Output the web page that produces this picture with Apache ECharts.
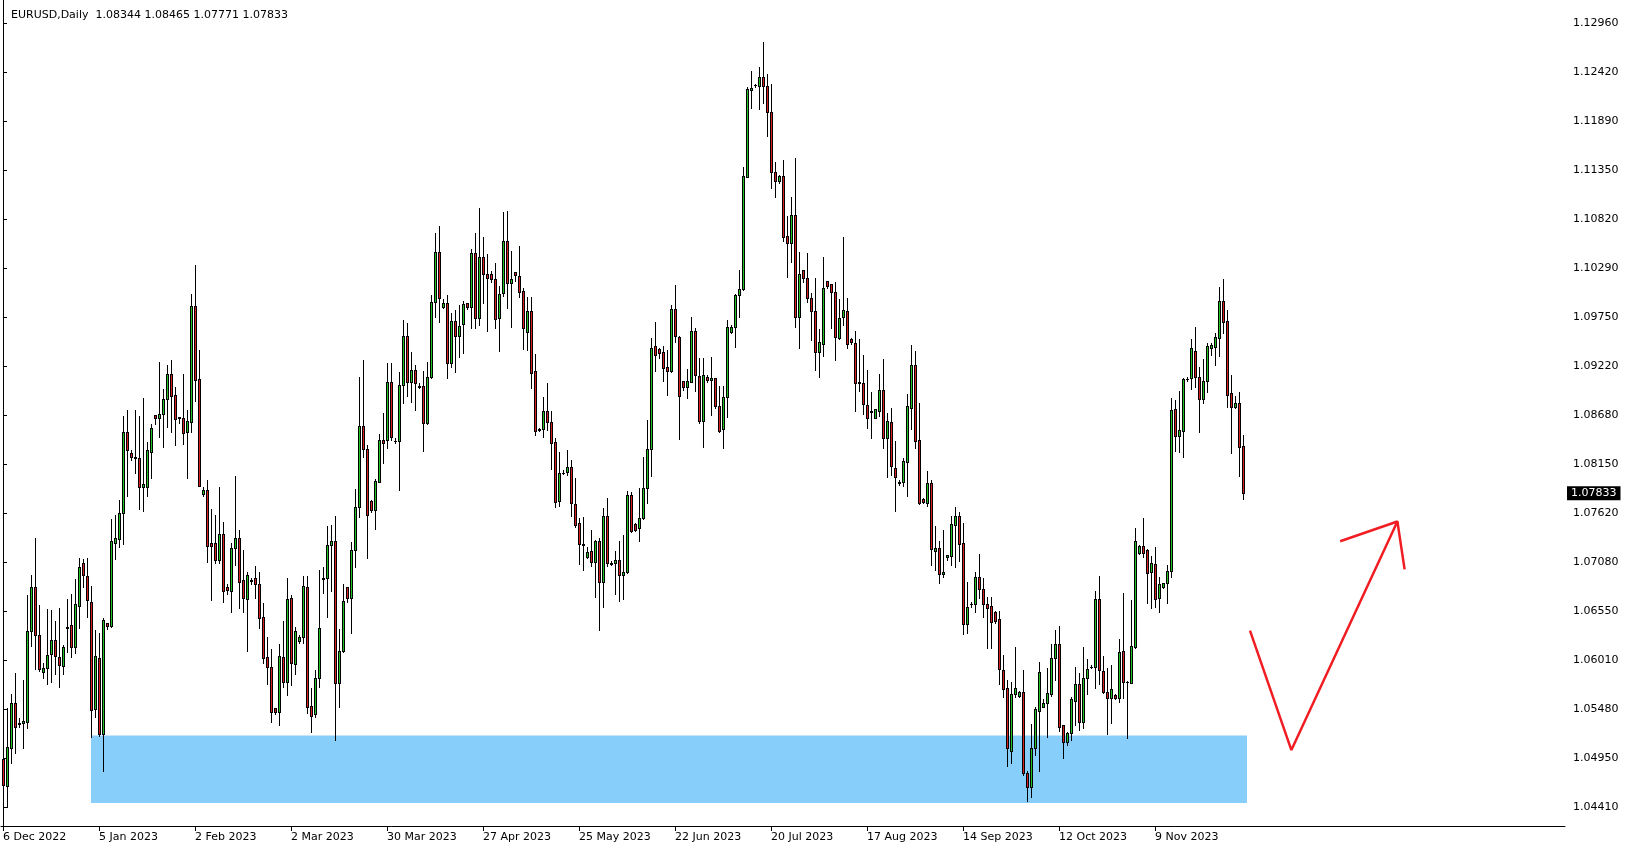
<!DOCTYPE html>
<html><head><meta charset="utf-8">
<script src="https://cdn.jsdelivr.net/npm/echarts@6/dist/echarts.min.js"></script>
<style>html,body{margin:0;padding:0;background:#fff}#c{width:1629px;height:850px}</style>
</head><body><div id="c"></div>
<script>
const symbolName = 'EURUSD,Daily';
const dateLabels = ['6 Dec 2022','5 Jan 2023','2 Feb 2023','2 Mar 2023','30 Mar 2023','27 Apr 2023','25 May 2023','22 Jun 2023','20 Jul 2023','17 Aug 2023','14 Sep 2023','12 Oct 2023','9 Nov 2023'];
const barsPerLabel = 24;
const yTicks = [1.04410,1.04950,1.05480,1.06010,1.06550,1.07080,1.07620,1.08150,1.08680,1.09220,1.09750,1.10290,1.10820,1.11350,1.11890,1.12420,1.12960];
const opens = [1.04933,1.04646,1.05053,1.05551,1.05326,1.05326,1.05344,1.06329,1.06808,1.06285,1.05882,1.05925,1.06078,1.06230,1.06052,1.05951,1.06360,1.06394,1.06154,1.06601,1.07070,1.06928,1.06645,1.05478,1.06034,1.05206,1.06423,1.06390,1.07288,1.07331,1.07620,1.08500,1.08270,1.08230,1.08220,1.07898,1.07905,1.08287,1.08683,1.08657,1.08693,1.08861,1.09133,1.08904,1.08661,1.08650,1.08505,1.08613,1.09874,1.09079,1.07829,1.07869,1.07287,1.07287,1.07106,1.07386,1.06812,1.06772,1.07233,1.07342,1.06888,1.06677,1.06888,1.06906,1.06840,1.06481,1.06045,1.05943,1.05489,1.05453,1.06045,1.05780,1.06688,1.05969,1.06227,1.06271,1.06808,1.05515,1.05424,1.05817,1.06906,1.06906,1.07270,1.07317,1.05769,1.06114,1.06808,1.06688,1.07215,1.07688,1.08567,1.08312,1.07749,1.07651,1.07960,1.08414,1.08414,1.09043,1.08407,1.08403,1.09010,1.09548,1.09050,1.09177,1.09003,1.09003,1.08596,1.09098,1.09915,1.10460,1.09867,1.09904,1.09257,1.09711,1.09551,1.09679,1.09904,1.09867,1.10449,1.09740,1.10405,1.10220,1.10220,1.10165,1.09740,1.10013,1.10587,1.10122,1.10242,1.10198,1.10038,1.09595,1.09820,1.09163,1.08538,1.08530,1.08734,1.08614,1.08389,1.07750,1.08058,1.08069,1.08116,1.07712,1.07505,1.07280,1.07135,1.07207,1.07088,1.07316,1.06862,1.07589,1.07077,1.07069,1.07106,1.06942,1.06979,1.07814,1.07502,1.07451,1.07560,1.07887,1.08312,1.09442,1.09402,1.09369,1.09206,1.09169,1.09838,1.09540,1.09057,1.08995,1.09050,1.09602,1.09115,1.08624,1.09101,1.09064,1.09086,1.08784,1.08530,1.08879,1.09587,1.09649,1.09994,1.10056,1.11284,1.12225,1.12280,1.12276,1.12367,1.12272,1.11992,1.11331,1.11240,1.11295,1.10637,1.10557,1.10866,1.09758,1.10263,1.10176,1.09958,1.09820,1.09377,1.09456,1.10147,1.10110,1.10023,1.09522,1.09758,1.09820,1.09514,1.09467,1.09042,1.09031,1.08795,1.08726,1.08650,1.08730,1.08959,1.08439,1.08606,1.08105,1.07955,1.07959,1.08178,1.08766,1.09231,1.08414,1.07771,1.07731,1.07941,1.07208,1.07233,1.06953,1.07135,1.07153,1.07487,1.07585,1.07287,1.06412,1.06630,1.06623,1.06917,1.06786,1.06623,1.06605,1.06536,1.06459,1.05907,1.05707,1.05028,1.05646,1.05624,1.05664,1.04781,1.04636,1.05060,1.05464,1.05507,1.05544,1.05646,1.06034,1.06187,1.05304,1.05126,1.05217,1.05573,1.05751,1.05344,1.05816,1.05940,1.05936,1.06677,1.05896,1.05664,1.05598,1.05634,1.05598,1.06114,1.05780,1.05769,1.06162,1.07179,1.07259,1.07215,1.06979,1.07063,1.06689,1.06808,1.06852,1.06986,1.08748,1.08461,1.08516,1.09075,1.09086,1.09384,1.09104,1.08857,1.09057,1.09413,1.09431,1.09529,1.09929,1.09711,1.08923,1.08777,1.08814,1.08344];
const highs = [1.05253,1.05489,1.05646,1.05871,1.05380,1.05798,1.06725,1.06943,1.07342,1.06616,1.05980,1.06572,1.06561,1.06445,1.06579,1.06180,1.06681,1.06735,1.06895,1.07124,1.07121,1.07124,1.06823,1.06343,1.06307,1.06470,1.06423,1.07550,1.07600,1.07760,1.08680,1.08740,1.08300,1.08740,1.08670,1.08868,1.08396,1.08584,1.08683,1.09267,1.08970,1.09231,1.09286,1.08995,1.08668,1.09133,1.08741,1.10001,1.10321,1.09395,1.07905,1.07978,1.07662,1.07596,1.07901,1.07524,1.06841,1.07287,1.08021,1.07433,1.07215,1.06971,1.06913,1.07040,1.06971,1.06633,1.06263,1.06132,1.05496,1.06190,1.06441,1.06906,1.06725,1.06372,1.06289,1.06932,1.06932,1.05708,1.05907,1.06997,1.07034,1.07477,1.07488,1.07586,1.06351,1.06845,1.06816,1.07306,1.07880,1.09104,1.09286,1.08360,1.07760,1.07993,1.08480,1.08712,1.09257,1.09257,1.08432,1.09159,1.09722,1.09693,1.09377,1.09232,1.09032,1.09170,1.09268,1.09995,1.10667,1.10747,1.09951,1.09995,1.09795,1.09831,1.09886,1.09929,1.09911,1.10496,1.10667,1.10939,1.10630,1.10438,1.10256,1.10340,1.10093,1.10899,1.10910,1.10474,1.10245,1.10529,1.10067,1.09976,1.09969,1.09352,1.08545,1.08879,1.09032,1.08730,1.08432,1.08280,1.08083,1.08305,1.08196,1.07996,1.07560,1.07578,1.07244,1.07433,1.07324,1.07342,1.07669,1.07778,1.07095,1.07204,1.07313,1.07378,1.07858,1.07850,1.07506,1.07887,1.08225,1.08632,1.09522,1.09696,1.09413,1.09442,1.09395,1.09885,1.10100,1.09551,1.09060,1.09187,1.09758,1.09631,1.09311,1.09311,1.09123,1.09319,1.09093,1.09002,1.09002,1.09722,1.09667,1.10005,1.10267,1.11389,1.12265,1.12436,1.12290,1.12483,1.12755,1.12399,1.12290,1.11447,1.11302,1.11466,1.10855,1.11059,1.11484,1.10459,1.10267,1.10448,1.10020,1.10176,1.09624,1.10412,1.10150,1.10117,1.10132,1.09951,1.10630,1.09960,1.09529,1.09600,1.09514,1.09340,1.09177,1.08933,1.08748,1.09129,1.09296,1.08704,1.08759,1.08403,1.07974,1.08214,1.08911,1.09449,1.09384,1.08813,1.07786,1.08076,1.07978,1.07476,1.07313,1.07433,1.07164,1.07585,1.07680,1.07632,1.07513,1.06862,1.06652,1.06971,1.07171,1.06913,1.06706,1.06706,1.06550,1.06550,1.06071,1.05798,1.05780,1.06154,1.05682,1.05907,1.04810,1.05319,1.05507,1.05998,1.05590,1.05925,1.06191,1.06343,1.06387,1.05308,1.05235,1.05616,1.05936,1.05871,1.06154,1.06027,1.05961,1.06768,1.06932,1.06060,1.05925,1.05962,1.05645,1.06245,1.06743,1.05790,1.06670,1.07459,1.07270,1.07560,1.07222,1.07150,1.07252,1.06925,1.06852,1.07052,1.08876,1.08850,1.08952,1.09086,1.09100,1.09515,1.09642,1.09213,1.09293,1.09468,1.09468,1.09577,1.10085,1.10165,1.09831,1.09123,1.08894,1.08941,1.08465];
const lows = [1.04581,1.04418,1.04890,1.05006,1.05290,1.05053,1.05271,1.06169,1.05914,1.05900,1.05816,1.05751,1.05780,1.05864,1.05718,1.05860,1.06107,1.06052,1.06096,1.06369,1.06808,1.06488,1.05181,1.05399,1.05188,1.04810,1.06350,1.06372,1.07113,1.07250,1.07280,1.07800,1.08200,1.08050,1.07660,1.07640,1.07807,1.08003,1.08592,1.08450,1.08341,1.08559,1.08497,1.08359,1.08595,1.08374,1.07999,1.08505,1.08842,1.07916,1.07807,1.07080,1.06670,1.07070,1.07070,1.06652,1.06732,1.06543,1.07051,1.06586,1.06535,1.06114,1.06844,1.06688,1.06361,1.05980,1.05754,1.05344,1.05431,1.05307,1.05725,1.05635,1.05744,1.05864,1.06205,1.06205,1.05442,1.05235,1.05399,1.05726,1.06743,1.06489,1.06772,1.05144,1.05500,1.06107,1.06652,1.06307,1.07026,1.07579,1.08225,1.07124,1.07633,1.07440,1.07955,1.08167,1.08323,1.08414,1.08378,1.07869,1.08814,1.08894,1.08832,1.08741,1.08978,1.08298,1.08589,1.09094,1.09751,1.09704,1.09856,1.09086,1.09213,1.09159,1.09322,1.09366,1.09845,1.09639,1.09631,1.09668,1.09911,1.09606,1.10140,1.09631,1.09388,1.09984,1.09849,1.09649,1.10151,1.09976,1.09402,1.09395,1.08985,1.08469,1.08512,1.08443,1.08523,1.08095,1.07680,1.07698,1.08040,1.08033,1.07589,1.07469,1.07059,1.06997,1.07124,1.07044,1.06706,1.06343,1.06597,1.07044,1.07055,1.06732,1.06659,1.06681,1.06961,1.07407,1.07422,1.07313,1.07553,1.07723,1.08021,1.09166,1.09311,1.09057,1.08904,1.09158,1.09478,1.08425,1.08959,1.08868,1.09043,1.08948,1.08595,1.08341,1.09050,1.08686,1.08759,1.08497,1.08323,1.08661,1.09584,1.09424,1.09758,1.10052,1.11284,1.12029,1.12265,1.12018,1.12083,1.11731,1.11164,1.11062,1.11218,1.10583,1.10194,1.10358,1.09649,1.09420,1.10132,1.09922,1.09504,1.09177,1.09104,1.09333,1.10074,1.09638,1.09286,1.09515,1.09667,1.09413,1.09456,1.08730,1.08948,1.08693,1.08548,1.08439,1.08650,1.08675,1.08323,1.08014,1.08032,1.07640,1.07925,1.07916,1.07807,1.08533,1.08330,1.07716,1.07723,1.07698,1.07051,1.06997,1.06851,1.06924,1.07106,1.07051,1.07033,1.07095,1.06299,1.06314,1.06594,1.06535,1.06695,1.06488,1.06151,1.06143,1.06420,1.05751,1.05609,1.04861,1.04897,1.05616,1.05616,1.04763,1.04483,1.04527,1.04981,1.04810,1.05500,1.05181,1.05624,1.05798,1.05246,1.04944,1.05090,1.05144,1.05308,1.05253,1.05271,1.05642,1.05925,1.05707,1.05754,1.05653,1.05206,1.05333,1.05591,1.05562,1.05600,1.05163,1.05762,1.06144,1.07172,1.07143,1.06634,1.06579,1.06590,1.06543,1.06797,1.06641,1.06924,1.08298,1.08287,1.08233,1.09060,1.08966,1.08988,1.08505,1.08821,1.08941,1.09340,1.09232,1.09330,1.09584,1.08777,1.08276,1.08763,1.08022,1.07771];
const closes = [1.04654,1.05072,1.05551,1.05290,1.05315,1.05348,1.06329,1.06808,1.06285,1.05914,1.05925,1.06067,1.06230,1.06060,1.05962,1.06154,1.06375,1.06154,1.06623,1.07026,1.06946,1.06666,1.05468,1.06056,1.05206,1.06452,1.06390,1.07309,1.07346,1.07620,1.08500,1.08300,1.08230,1.08220,1.07900,1.07930,1.08301,1.08548,1.08657,1.08693,1.08861,1.09133,1.08897,1.08639,1.08650,1.08494,1.08621,1.09874,1.09068,1.07916,1.07869,1.07262,1.07262,1.07106,1.07386,1.06772,1.06783,1.07233,1.07342,1.06870,1.06688,1.06942,1.06877,1.06844,1.06477,1.06041,1.05943,1.05453,1.05453,1.06060,1.05780,1.06678,1.05980,1.06336,1.06263,1.06823,1.05508,1.05410,1.05817,1.06361,1.06895,1.07270,1.07317,1.05769,1.06114,1.06659,1.06688,1.07215,1.07688,1.08567,1.08312,1.07593,1.07651,1.07967,1.08414,1.08385,1.09043,1.08443,1.08400,1.09010,1.09548,1.09050,1.09177,1.09032,1.08996,1.08596,1.09105,1.09915,1.10460,1.09958,1.09904,1.09257,1.09715,1.09551,1.09657,1.09897,1.09867,1.10449,1.09740,1.10405,1.10220,1.10184,1.10165,1.09729,1.10002,1.10587,1.10129,1.10165,1.10209,1.10031,1.09631,1.09820,1.09148,1.08512,1.08523,1.08734,1.08614,1.08385,1.07740,1.08051,1.08051,1.08116,1.07723,1.07487,1.07276,1.07269,1.07197,1.07088,1.07316,1.06862,1.07589,1.07069,1.07062,1.07106,1.06942,1.06979,1.07814,1.07422,1.07429,1.07560,1.07887,1.08312,1.09413,1.09340,1.09365,1.09202,1.09169,1.09838,1.09551,1.08897,1.08995,1.09057,1.09602,1.09122,1.08624,1.09122,1.09071,1.09086,1.08788,1.08516,1.08879,1.09649,1.09642,1.09994,1.10060,1.11291,1.12239,1.12254,1.12286,1.12367,1.12276,1.11992,1.11338,1.11240,1.11295,1.10630,1.10557,1.10866,1.09758,1.10223,1.10176,1.09958,1.09820,1.09377,1.09478,1.10067,1.10096,1.10023,1.09540,1.09747,1.09831,1.09456,1.09478,1.09038,1.09031,1.08806,1.08657,1.08715,1.08748,1.08959,1.08439,1.08621,1.08134,1.08014,1.07950,1.08185,1.08784,1.09231,1.08403,1.07723,1.07734,1.07941,1.07222,1.07233,1.06953,1.06979,1.07160,1.07498,1.07585,1.07280,1.06412,1.06590,1.06623,1.06917,1.06786,1.06623,1.06579,1.06427,1.06445,1.05914,1.05696,1.05053,1.05646,1.05707,1.05664,1.04781,1.04636,1.05053,1.05478,1.05882,1.05544,1.05653,1.06034,1.06187,1.05290,1.05126,1.05217,1.05587,1.05751,1.05344,1.05816,1.05914,1.05943,1.06677,1.05907,1.05664,1.05598,1.05696,1.05598,1.06107,1.05780,1.05773,1.06169,1.07313,1.07259,1.07186,1.06968,1.07070,1.06678,1.06841,1.06852,1.06986,1.08741,1.08461,1.08523,1.09079,1.09082,1.09413,1.09097,1.08857,1.09057,1.09439,1.09446,1.09533,1.09929,1.09704,1.08905,1.08777,1.08814,1.08342,1.07833];
// annotations (in bar-index / price units)
const zoneBox = {fromBar: 22, toBar: 311, top: 1.05192, bottom: 1.04457};
const arrowPath = [[311.75,1.06336],[322.1,1.05034],[348.6,1.07525]];
const arrowHead = [[334.3,1.07310],[348.6,1.07525],[350.4,1.07003]];
const totalSlots = 391;

const FONT = 'DejaVu Sans';
const BULL = '#22c322', BEAR = '#d42020', EDGE = '#000000';
const n = opens.length;
const categories = Array.from({length: totalSlots}, (_, i) => String(i));
const candleData = opens.map((o, i) => [i, o, closes[i], lows[i], highs[i]]);
const showTick = (i) => i % barsPerLabel === 0 && i / barsPerLabel < dateLabels.length;
const yMin = 1.042063, yMax = 1.132096;
const f5 = v => v.toFixed(5);

function renderCandle(params, api) {
  const i = api.value(0);
  const o = api.value(1), c = api.value(2), l = api.value(3), h = api.value(4);
  const pO = api.coord([i, o]), pC = api.coord([i, c]);
  const pL = api.coord([i, l]), pH = api.coord([i, h]);
  const cx = Math.round(pO[0]);
  const yH = Math.round(pH[1]), yL = Math.round(pL[1]);
  let yTop = Math.round(Math.min(pO[1], pC[1]));
  let yBot = Math.round(Math.max(pO[1], pC[1]));
  const children = [
    {type: 'rect', shape: {x: cx, y: yH, width: 1, height: Math.max(1, yL - yH + 1)}, style: {fill: EDGE}},
    {type: 'rect', shape: {x: cx - 1, y: yTop, width: 3, height: yBot - yTop + 1}, style: {fill: EDGE}}
  ];
  if (yBot - yTop >= 2) {
    children.push({type: 'rect', shape: {x: cx, y: yTop + 1, width: 1, height: yBot - yTop - 1},
      style: {fill: c >= o ? BULL : BEAR}});
  }
  return {type: 'group', children};
}

const chart = echarts.init(document.getElementById('c'), null, {renderer: 'canvas'});
chart.setOption({
  animation: false,
  backgroundColor: '#ffffff',
  title: {
    text: symbolName + '  ' + [opens[n-1], highs[n-1], lows[n-1], closes[n-1]].map(f5).join(' '),
    left: 6, top: 5,
    textStyle: {fontFamily: FONT, fontSize: 11, fontWeight: 'normal', color: '#000'}
  },
  grid: {left: 1, right: 64, top: 0, bottom: 24, show: false},
  xAxis: [{
    type: 'category', data: categories, boundaryGap: true,
    axisLine: {show: true, lineStyle: {color: '#000', width: 1}},
    axisTick: {show: true, interval: (i) => showTick(i), alignWithLabel: true, length: 5, lineStyle: {color: '#000'}},
    axisLabel: {interval: (i) => showTick(i), formatter: (v, i) => dateLabels[i / barsPerLabel],
      align: 'left', margin: 6, fontFamily: FONT, fontSize: 11, color: '#000'},
    splitLine: {show: false}
  }, {
    type: 'value', min: -0.5, max: totalSlots - 0.5, show: false
  }],
  yAxis: [{
    type: 'value', position: 'right', min: yMin, max: yMax, scale: true,
    axisLine: {show: true, lineStyle: {color: '#000', width: 1}},
    axisTick: {show: true, customValues: yTicks, length: 4, lineStyle: {color: '#000'}},
    axisLabel: {customValues: yTicks, formatter: f5, margin: 8, fontFamily: FONT, fontSize: 11, color: '#000'},
    splitLine: {show: false}
  }, {
    type: 'value', position: 'right', min: yMin, max: yMax, scale: true,
    axisLine: {show: false}, axisTick: {show: false}, splitLine: {show: false},
    axisLabel: {customValues: [closes[n-1]], formatter: f5, margin: 2, fontFamily: FONT, fontSize: 11,
      color: '#fff', backgroundColor: '#000', padding: [2, 4, 1, 4]}
  }],
  series: [{
    type: 'line', xAxisIndex: 1, yAxisIndex: 0, data: [], z: 1, silent: true,
    markArea: {silent: true, itemStyle: {color: '#87cefa', opacity: 1},
      data: [[{xAxis: zoneBox.fromBar, yAxis: zoneBox.top}, {xAxis: zoneBox.toBar, yAxis: zoneBox.bottom}]]}
  }, {
    type: 'custom', xAxisIndex: 0, yAxisIndex: 0, data: candleData, z: 3,
    encode: {x: 0, y: [1, 2, 3, 4]}, renderItem: renderCandle, clip: false
  }, {
    type: 'line', xAxisIndex: 1, yAxisIndex: 0, data: arrowPath, z: 4, symbol: 'none',
    lineStyle: {color: '#f01e23', width: 2.5}
  }, {
    type: 'line', xAxisIndex: 1, yAxisIndex: 0, data: arrowHead, z: 4, symbol: 'none',
    lineStyle: {color: '#f01e23', width: 2.5}
  }]
});
</script></body></html>
